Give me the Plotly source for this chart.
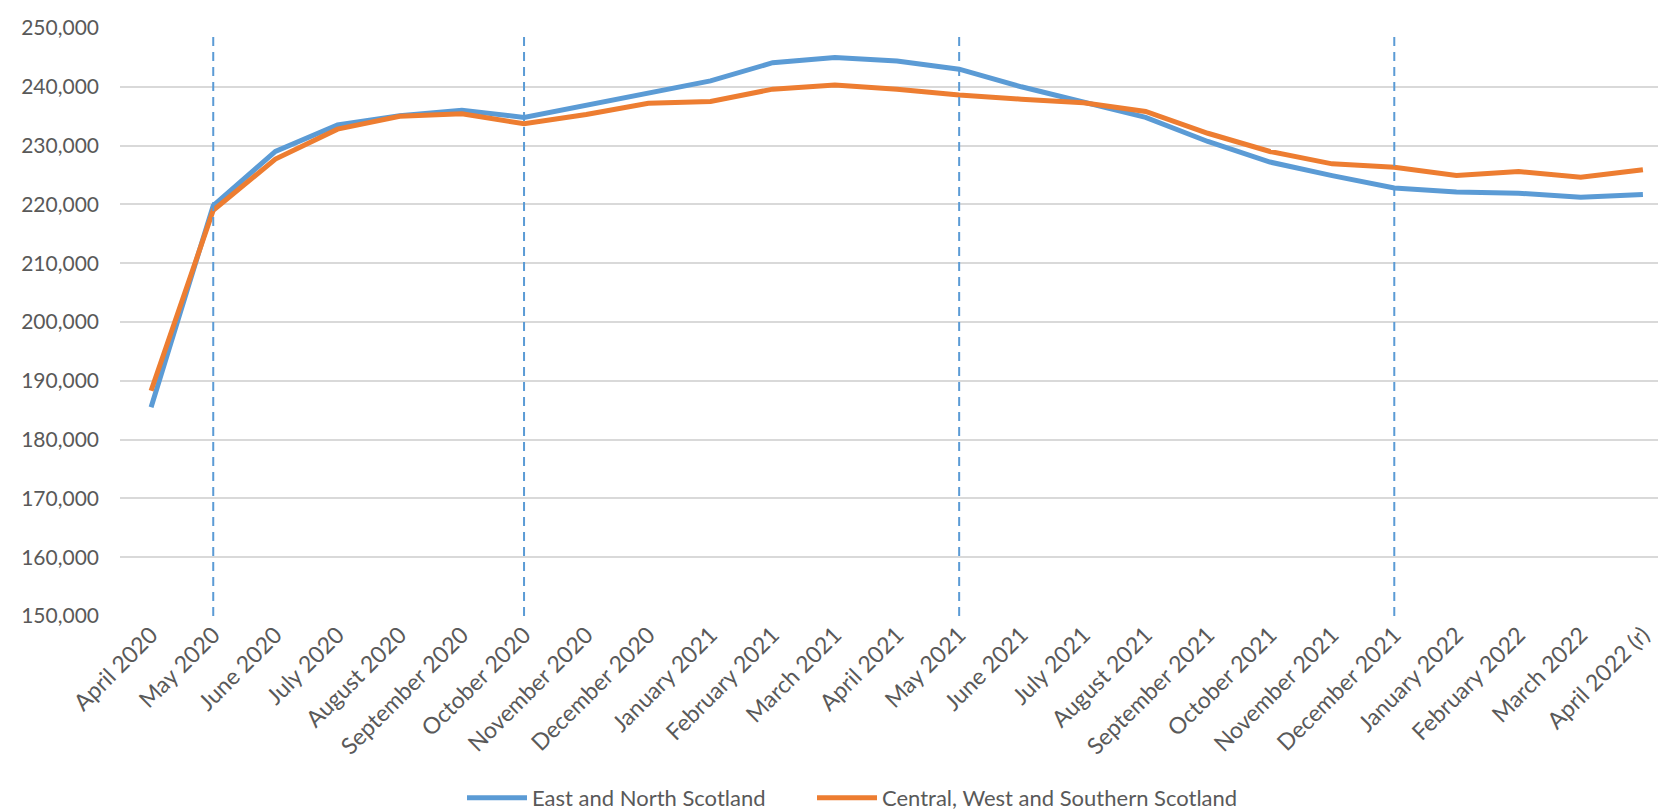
import plotly.graph_objects as go

months = ["April 2020", "May 2020", "June 2020", "July 2020", "August 2020",
          "September 2020", "October 2020", "November 2020", "December 2020",
          "January 2021", "February 2021", "March 2021", "April 2021", "May 2021",
          "June 2021", "July 2021", "August 2021", "September 2021", "October 2021",
          "November 2021", "December 2021", "January 2022", "February 2022",
          "March 2022", "April 2022 (r)"]

east_north = [185500, 219800, 229000, 233500, 235100, 236000, 234800, 236800, 238900,
              241000, 244100, 245000, 244400, 243000, 240000, 237400, 234800, 230700,
              227200, 224900, 222800, 222100, 221900, 221200, 221700]

central_west_south = [188300, 219000, 227700, 232800, 235000, 235400, 233700, 235300, 237200,
                      237500, 239600, 240300, 239600, 238600, 237900, 237300, 235800, 232100,
                      229000, 226900, 226300, 224900, 225600, 224600, 225900]

marker_months = ["May 2020", "October 2020", "May 2021", "December 2021"]
marker_span = [150000, 249000]

y_ticks = list(range(150000, 250001, 10000))

BLUE = "#5B9BD5"
ORANGE = "#ED7D31"
FONT = "Lato"
TXT = "#595959"

fig = go.Figure()
fig.add_trace(go.Scatter(x=months, y=east_north, mode="lines", name="East and North Scotland",
                         line=dict(color=BLUE, width=5), legend="legend"))
fig.add_trace(go.Scatter(x=months, y=central_west_south, mode="lines",
                         name="Central, West and Southern Scotland",
                         line=dict(color=ORANGE, width=5), legend="legend2"))

for m in marker_months:
    fig.add_shape(type="line", xref="x", yref="y", x0=m, x1=m,
                  y0=marker_span[0], y1=marker_span[1],
                  line=dict(color=BLUE, width=2, dash="9px,6px"), layer="above")

leg_common = dict(orientation="h", xref="container", yref="container",
                  xanchor="left", y=0.0, yanchor="bottom",
                  font=dict(family=FONT, size=22, color=TXT),
                  itemwidth=60, borderwidth=0, bgcolor="rgba(0,0,0,0)")

fig.update_layout(
    template="none",
    width=1666, height=811,
    margin=dict(l=112, r=0, t=20, b=203, autoexpand=False),
    plot_bgcolor="white", paper_bgcolor="white",
    font=dict(family=FONT, size=21, color=TXT),
    showlegend=True,
    legend=dict(x=454 / 1666, **leg_common),
    legend2=dict(x=804 / 1666, **leg_common),
    xaxis=dict(type="category", range=[-0.5, len(months) - 0.5], tickangle=-45,
               showgrid=False, showline=False, ticks="", zeroline=False, automargin=False,
               tickfont=dict(family=FONT, size=23, color=TXT)),
    yaxis=dict(range=[150000, 250000], tickvals=y_ticks,
               ticktext=[f"{v:,}" for v in y_ticks], automargin=False,
               showgrid=True, gridcolor="#D9D9D9", gridwidth=1.5, zeroline=False,
               showline=False, ticks="", ticklabelstandoff=20,
               tickfont=dict(family=FONT, size=21, color=TXT)),
)

fig.write_html("out.html")
